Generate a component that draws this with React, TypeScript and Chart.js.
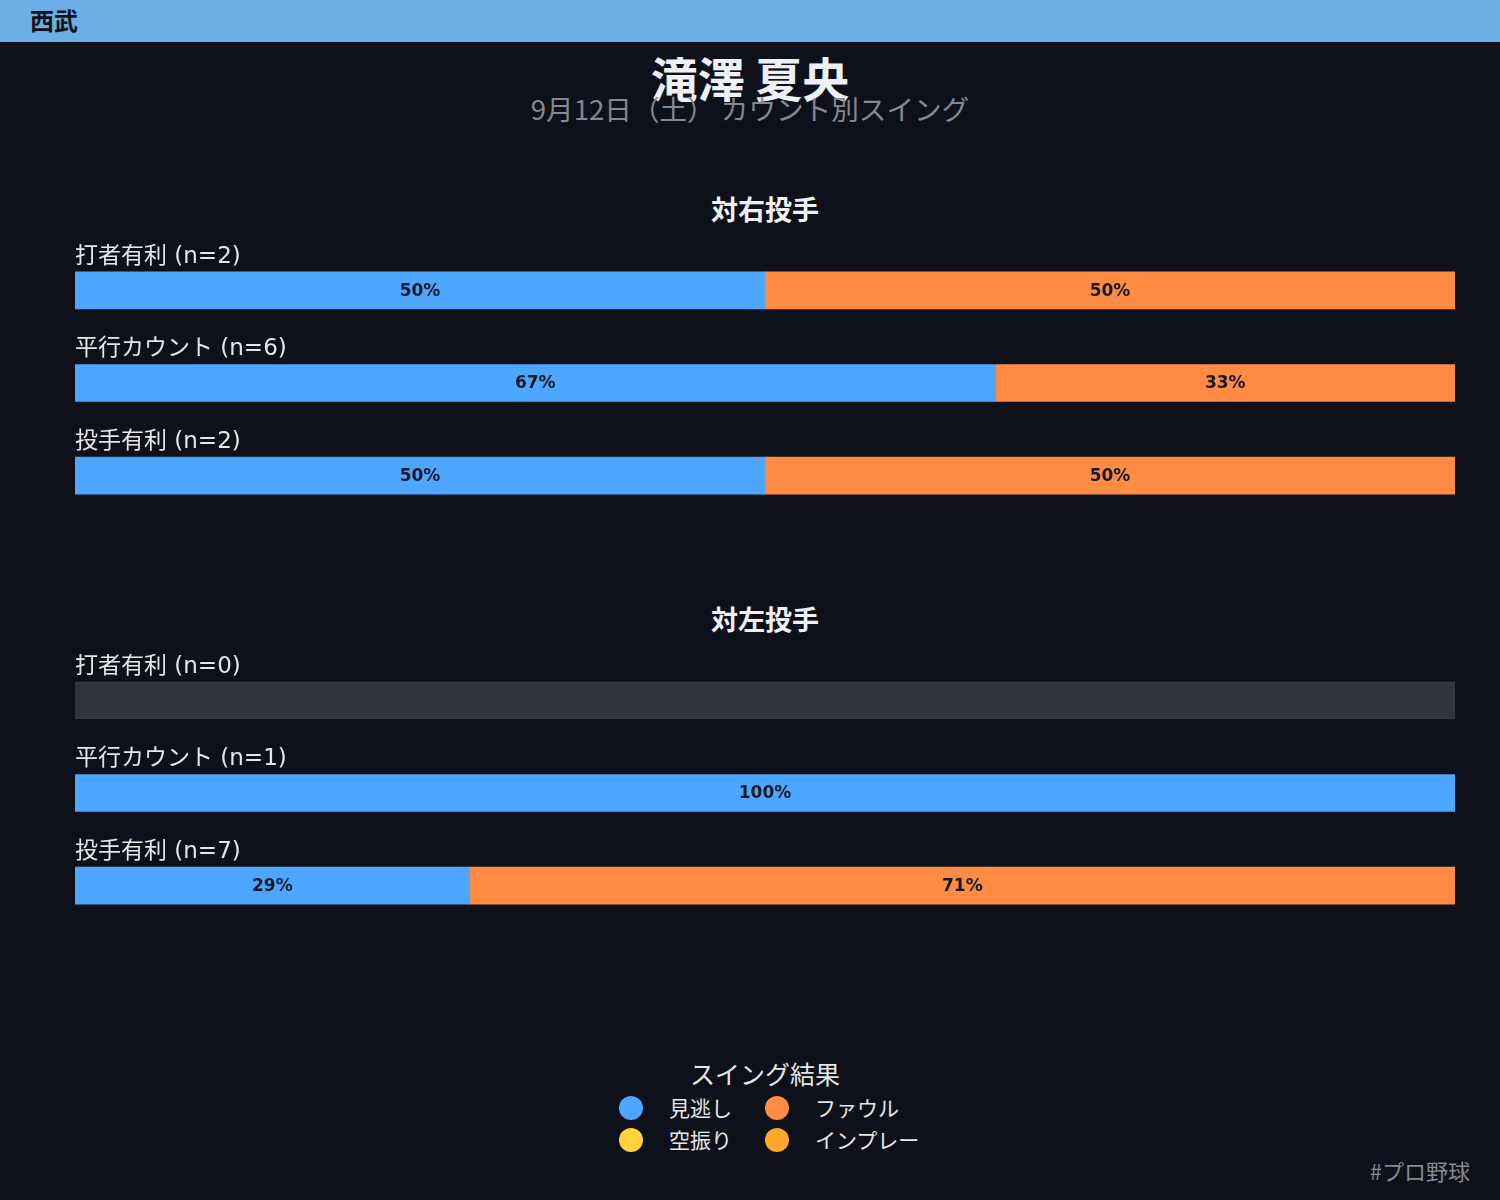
import React, { useEffect, useRef } from "react";
import { Chart, registerables } from "chart.js";

Chart.register(...registerables);

const categories = ["打者有利", "平行カウント", "投手有利"];
const rightCounts = [2, 6, 2];
const leftCounts = [0, 1, 7];
const seriesNames = ["見逃し", "空振り", "ファウル", "インプレー"];
const seriesColors = ["#4da6ff", "#ffd43b", "#ff8c42", "#ffa62b"];
const rightMinogashi = [50, 66.7, 50];
const rightKarafuri = [0, 0, 0];
const rightFoul = [50, 33.3, 50];
const rightInplay = [0, 0, 0];
const rightEmpty = [0, 0, 0];
const leftMinogashi = [0, 100, 28.6];
const leftKarafuri = [0, 0, 0];
const leftFoul = [0, 0, 71.4];
const leftInplay = [0, 0, 0];
const leftEmpty = [100, 0, 0];
const legendOrder = [0, 2, 1, 3];

const FONT = '"DejaVu Sans", "Noto Sans CJK JP", sans-serif';
const JFONT = '"Noto Sans CJK JP", "DejaVu Sans", sans-serif';

function GroupChart(props: { counts: number[]; series: number[][]; empty: number[]; top: number }) {
  const ref = useRef<HTMLCanvasElement | null>(null);
  useEffect(() => {
    if (!ref.current) return;
    const datasets: any[] = props.series.map((vals, k) => ({
      label: seriesNames[k],
      data: vals.map((v) => (v === 0 ? null : v)),
      backgroundColor: seriesColors[k],
      borderWidth: 0,
      barThickness: 37,
      stack: "s",
    }));
    datasets.push({
      label: "none",
      data: props.empty.map((v) => (v === 0 ? null : v)),
      backgroundColor: "#30353d",
      borderColor: "#3a3f47",
      borderWidth: 1,
      barThickness: 37,
      stack: "s",
      isEmpty: true,
    });
    const labelPlugin = {
      id: "rowLabels",
      afterDatasetsDraw(chart: any) {
        const ctx = chart.ctx;
        const ys = chart.scales.y;
        ctx.save();
        chart.data.datasets.forEach((ds: any, di: number) => {
          if (ds.isEmpty) return;
          const meta = chart.getDatasetMeta(di);
          meta.data.forEach((el: any, i: number) => {
            const v = ds.data[i];
            if (!v) return;
            const cx = (el.x + el.base) / 2;
            ctx.font = `bold 17px ${FONT}`;
            ctx.fillStyle = "#141a26";
            ctx.textAlign = "center";
            ctx.textBaseline = "middle";
            ctx.fillText(`${Math.round(v)}%`, cx, el.y + 1);
          });
        });
        categories.forEach((c, i) => {
          const y = ys.getPixelForValue(i);
          ctx.font = `23px ${FONT}`;
          ctx.fillStyle = "#e6e6e6";
          ctx.textAlign = "left";
          ctx.textBaseline = "middle";
          ctx.fillText(`${c} (n=${props.counts[i]})`, chart.chartArea.left, y - 18.5 - 15);
        });
        ctx.restore();
      },
    };
    const chart = new Chart(ref.current, {
      type: "bar",
      data: { labels: categories, datasets },
      options: {
        indexAxis: "y",
        responsive: false,
        maintainAspectRatio: false,
        animation: false,
        layout: { padding: 0 },
        scales: {
          x: { stacked: true, min: 0, max: 100, display: false },
          y: { stacked: true, display: false },
        },
        plugins: { legend: { display: false }, tooltip: { enabled: false } },
      } as any,
      plugins: [labelPlugin],
    });
    return () => chart.destroy();
  }, []);
  return (
    <canvas
      ref={ref}
      width={1380}
      height={278}
      style={{ position: "absolute", left: 75, top: props.top, width: 1380, height: 278 }}
    />
  );
}

function Text(props: { x: number; y: number; children: any; style?: any; align?: string }) {
  const align = props.align || "center";
  const tx = align === "center" ? "-50%" : align === "right" ? "-100%" : "0";
  return (
    <div
      style={{
        position: "absolute",
        left: props.x,
        top: props.y,
        transform: `translate(${tx}, -50%)`,
        whiteSpace: "nowrap",
        lineHeight: 1,
        fontFamily: JFONT,
        ...props.style,
      }}
    >
      {props.children}
    </div>
  );
}

export default function App() {
  return (
    <div
      style={{
        position: "fixed",
        left: 0,
        top: 0,
        width: 1500,
        height: 1200,
        background: "#0e1119",
        overflow: "hidden",
      }}
    >
      <div style={{ position: "absolute", left: 0, top: 0, width: 1500, height: 42, background: "#6aaee6" }} />
      <Text x={30} y={20} align="left" style={{ fontSize: 24, fontWeight: "bold", color: "#0e1119" }}>
        西武
      </Text>
      <Text x={750} y={76} style={{ fontSize: 47, fontWeight: "bold", color: "#eef0f5" }}>
        滝澤 夏央
      </Text>
      <Text x={750} y={109} style={{ fontSize: 27.6, color: "#85888f" }}>
        9月12日（土） カウント別スイング
      </Text>
      <Text x={765} y={208} style={{ fontSize: 27, fontWeight: "bold", color: "#eef0f5" }}>
        対右投手
      </Text>
      <Text x={765} y={618} style={{ fontSize: 27, fontWeight: "bold", color: "#eef0f5" }}>
        対左投手
      </Text>
      <GroupChart
        counts={rightCounts}
        series={[rightMinogashi, rightKarafuri, rightFoul, rightInplay]}
        empty={rightEmpty}
        top={244}
      />
      <GroupChart
        counts={leftCounts}
        series={[leftMinogashi, leftKarafuri, leftFoul, leftInplay]}
        empty={leftEmpty}
        top={654}
      />
      <Text x={765} y={1073} style={{ fontSize: 25, color: "#e6e6e6" }}>
        スイング結果
      </Text>
      {legendOrder.map((k, j) => {
        const col = j % 2;
        const row = Math.floor(j / 2);
        const cx = 631 + col * 146;
        const cy = 1108 + row * 32;
        return (
          <React.Fragment key={k}>
            <div
              style={{
                position: "absolute",
                left: cx - 12,
                top: cy - 12,
                width: 24,
                height: 24,
                borderRadius: 12,
                background: seriesColors[k],
              }}
            />
            <Text x={cx + 38} y={cy - 1} align="left" style={{ fontSize: 21, color: "#e6e6e6" }}>
              {seriesNames[k]}
            </Text>
          </React.Fragment>
        );
      })}
      <Text x={1470} y={1170} align="right" style={{ fontSize: 22, color: "#85888f" }}>
        #プロ野球
      </Text>
    </div>
  );
}
